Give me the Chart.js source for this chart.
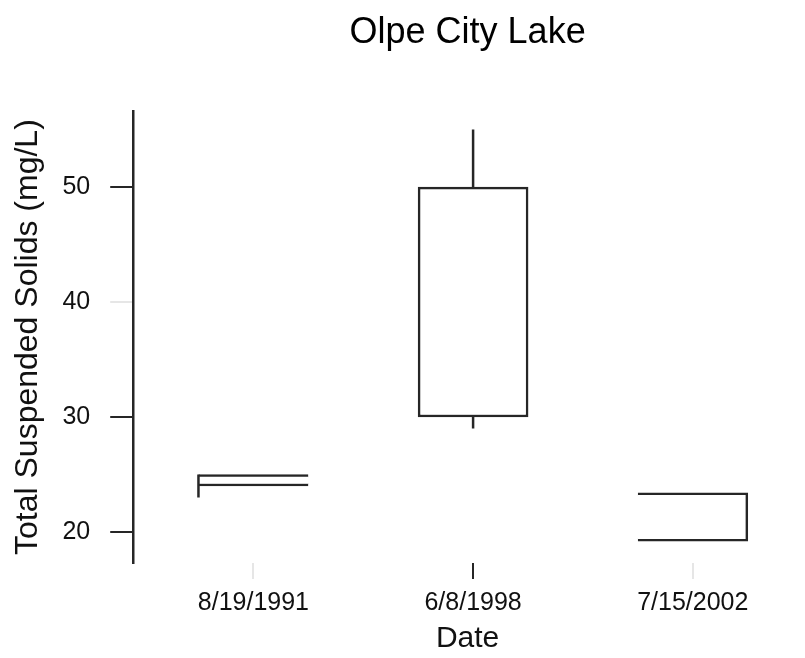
<!DOCTYPE html>
<html>
<head>
<meta charset="utf-8">
<script src="https://cdn.jsdelivr.net/npm/chart.js@4"></script>
<style>
  html, body { margin: 0; padding: 0; background: #fff; }
  #wrap { width: 805px; height: 658px; }
</style>
</head>
<body>
<div id="wrap"><canvas id="tssChart"></canvas></div>
<script>
// ========= Data =========
const dates = ["8/19/1991", "6/8/1998", "7/15/2002"];
const boxLow = [24, 30, 19.2];
const boxHigh = [25, 50, 23.4];
// whisker segments: category, start value, end value
const whiskerCat = [1, 2, 2];
const whiskerFrom = [25, 50, 30];
const whiskerTo = [23, 55, 29];
const yTicks = [20, 30, 40, 50];

// ========= Styles =========
const ink = "#262626";
const lw = 2.5;
const boxSides = [
    { top: lw, bottom: lw, left: 0, right: 0 },
    { top: lw, bottom: lw, left: lw, right: lw },
    { top: lw, bottom: lw, left: 0, right: lw },
];
const whiskerShift = [-0.25, 0, 0]; // first whisker sits on the box's left edge
const faint = "#e6e6e6";

Chart.defaults.font.family = "'Liberation Sans', Arial, sans-serif";
Chart.defaults.color = "#111";

const boxData = dates.map((d, i) => ({ x: i + 1, y: [boxLow[i], boxHigh[i]] }));

const whiskerData = [];
whiskerCat.forEach((c, i) => {
    const x = c + whiskerShift[i];
    if (i > 0) whiskerData.push({ x: x, y: null });
    whiskerData.push({ x: x, y: whiskerFrom[i] });
    whiskerData.push({ x: x, y: whiskerTo[i] });
});

new Chart(document.getElementById("tssChart"), {
    type: "bar",
    data: {
        datasets: [
            {
                type: "line",
                data: whiskerData,
                borderColor: ink,
                borderWidth: lw,
                pointRadius: 0,
                spanGaps: false,
                order: 0,
            },
            {
                data: boxData,
                backgroundColor: "#fff",
                borderColor: ink,
                borderWidth: (ctx) => boxSides[ctx.dataIndex],
                borderSkipped: false,
                barThickness: 110,
                order: 1,
            },
        ],
    },
    options: {
        responsive: true,
        maintainAspectRatio: false,
        animation: false,
        layout: { padding: { left: 0, right: 3, top: 0, bottom: 0 } },
        plugins: {
            legend: { display: false },
            tooltip: { enabled: false },
            title: {
                display: true,
                fullSize: false,
                text: "Olpe City Lake",
                color: "#000",
                font: { size: 36, weight: "normal" },
                padding: { top: 11, bottom: 57 },
            },
        },
        scales: {
            x: {
                type: "linear",
                offset: false,
                min: 0.453,
                max: 3.497,
                afterBuildTicks: (scale) => {
                    scale.ticks = dates.map((d, i) => ({ value: i + 1 }));
                },
                border: { display: false },
                grid: {
                    offset: false,
                    drawOnChartArea: false,
                    tickLength: 16,
                    lineWidth: 2,
                    tickColor: (ctx) => (ctx.index === 1 ? ink : faint),
                },
                ticks: {
                    autoSkip: false,
                    maxRotation: 0,
                    padding: 12,
                    color: "#111",
                    font: { size: 25, lineHeight: 1 },
                    callback: (v) => dates[Math.round(v) - 1],
                },
                title: {
                    display: true,
                    text: "Date",
                    color: "#111",
                    font: { size: 30, lineHeight: 1 },
                    padding: { top: -4, bottom: 4 },
                },
            },
            y: {
                min: 17.3,
                max: 56.6,
                afterBuildTicks: (scale) => {
                    scale.ticks = yTicks.map((v) => ({ value: v }));
                },
                border: { display: true, color: ink, width: lw },
                grid: {
                    drawOnChartArea: false,
                    tickLength: 23,
                    lineWidth: 2,
                    tickColor: (ctx) => (ctx.tick && ctx.tick.value === 40 ? faint : ink),
                },
                ticks: {
                    padding: 20,
                    color: "#111",
                    font: { size: 25 },
                },
                title: {
                    display: true,
                    text: "Total Suspended Solids (mg/L)",
                    color: "#111",
                    font: { size: 32 },
                    padding: { top: 9, bottom: -5 },
                },
            },
        },
    },
});
</script>
</body>
</html>
